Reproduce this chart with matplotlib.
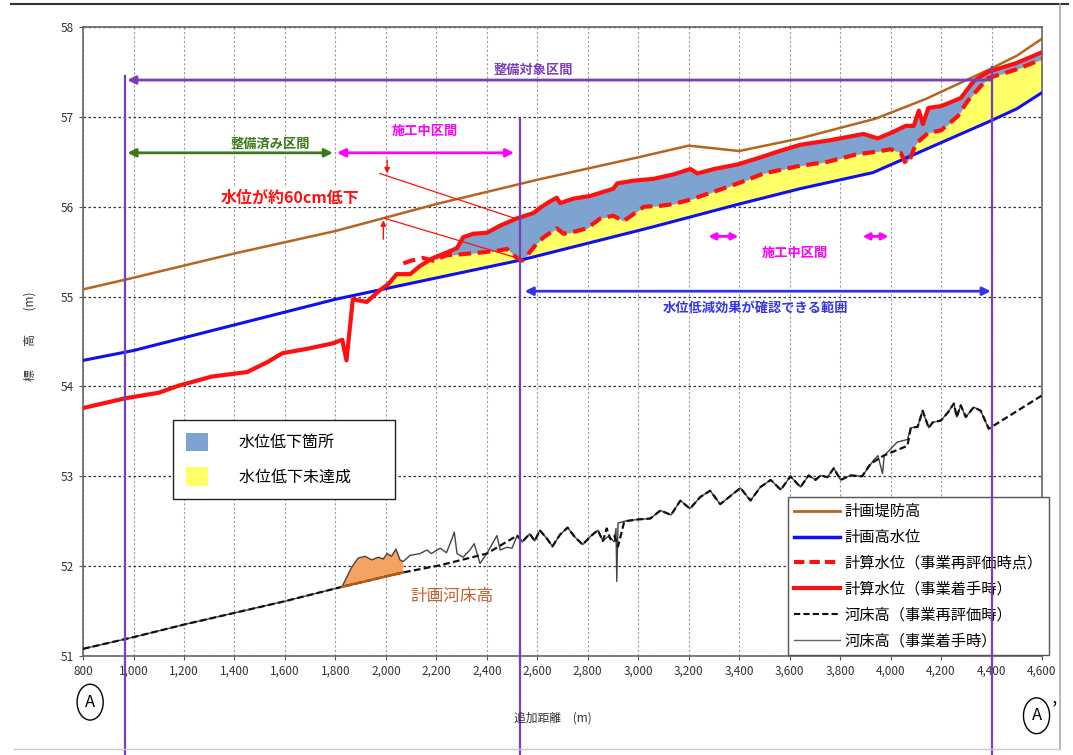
import numpy as np
import matplotlib.pyplot as plt
from matplotlib.patches import Patch
from matplotlib.lines import Line2D

plt.rcParams['font.family'] = ['Noto Sans CJK JP', 'DejaVu Sans']

# 計画堤防高
dike_x = [800, 1000, 1400, 1800, 2200, 2600, 3000, 3200, 3400, 3640, 3940, 4140, 4385, 4500, 4600]
dike_y = [55.08, 55.21, 55.48, 55.73, 56.03, 56.30, 56.55, 56.68, 56.62, 56.76, 56.98, 57.20, 57.52, 57.68, 57.87]

# 計画高水位
hwl_x = [800, 1000, 1800, 2540, 3050, 3400, 3640, 3930, 4400, 4500, 4600]
hwl_y = [54.29, 54.40, 54.97, 55.41, 55.77, 56.03, 56.20, 56.38, 56.96, 57.09, 57.27]

# 計算水位(事業着手時)
wl_old_x = [800, 970, 1100, 1180, 1310, 1450, 1530, 1590, 1690, 1790, 1827, 1844, 1869, 1924, 1976,
            2010, 2043, 2096, 2135, 2187, 2241, 2282, 2306, 2347, 2400, 2453, 2519, 2585, 2612, 2645,
            2677, 2691, 2743, 2810, 2901, 2917, 2981, 3060, 3140, 3207, 3234, 3300, 3393, 3485, 3560,
            3643, 3760, 3893, 3949, 4000, 4060, 4092, 4112, 4128, 4150, 4200, 4227, 4278, 4330, 4385,
            4500, 4600]
wl_old_y = [53.76, 53.87, 53.93, 54.01, 54.11, 54.16, 54.27, 54.37, 54.42, 54.48, 54.52, 54.29, 54.97, 54.94, 55.07,
            55.14, 55.25, 55.25, 55.34, 55.43, 55.49, 55.54, 55.66, 55.70, 55.71, 55.79, 55.87, 55.93, 55.99, 56.05,
            56.10, 56.04, 56.09, 56.12, 56.20, 56.26, 56.29, 56.31, 56.36, 56.42, 56.37, 56.42, 56.47, 56.55, 56.62,
            56.69, 56.74, 56.81, 56.76, 56.82, 56.90, 56.90, 57.07, 56.92, 57.10, 57.12, 57.15, 57.21, 57.40, 57.50,
            57.60, 57.72]

# 計算水位(事業再評価時点)
wl_new_x = [2069, 2100, 2147, 2187, 2241, 2294, 2373, 2440, 2480, 2519, 2540, 2560, 2598, 2625, 2677,
            2704, 2730, 2797, 2850, 2901, 2942, 2982, 3022, 3088, 3140, 3207, 3313, 3405, 3497, 3630,
            3750, 3861, 3960, 4000, 4040, 4060, 4080, 4100, 4148, 4200, 4267, 4306, 4385, 4500, 4600]
wl_new_y = [55.37, 55.40, 55.43, 55.40, 55.46, 55.47, 55.49, 55.51, 55.53, 55.43, 55.40, 55.46, 55.59, 55.66, 55.76,
            55.70, 55.71, 55.76, 55.87, 55.90, 55.84, 55.92, 56.00, 56.01, 56.03, 56.08, 56.18, 56.27, 56.37, 56.45,
            56.50, 56.58, 56.62, 56.64, 56.60, 56.48, 56.55, 56.70, 56.82, 56.85, 57.01, 57.18, 57.43, 57.53, 57.64]

# 河床高(事業再評価時)
bed_new_x = [800, 1000, 1200, 1400, 1600, 1826, 2068, 2215, 2400, 2520, 2540, 2570, 2590, 2610, 2640,
             2660, 2690, 2720, 2750, 2780, 2810, 2840, 2860, 2875, 2890, 2905, 2920, 2945, 3000, 3048,
             3088, 3130, 3167, 3205, 3246, 3285, 3325, 3365, 3405, 3445, 3484, 3525, 3565, 3603, 3643,
             3675, 3703, 3722, 3750, 3775, 3802, 3841, 3887, 3921, 3972, 4067, 4080, 4107, 4127, 4151,
             4167, 4199, 4227, 4251, 4262, 4278, 4298, 4330, 4357, 4389, 4600]
bed_new_y = [51.08, 51.21, 51.35, 51.48, 51.61, 51.77, 51.93, 52.01, 52.14, 52.34, 52.27, 52.36, 52.28, 52.40, 52.30,
             52.22, 52.35, 52.43, 52.32, 52.24, 52.33, 52.40, 52.28, 52.42, 52.30, 52.34, 52.22, 52.50, 52.52, 52.53,
             52.62, 52.57, 52.73, 52.64, 52.77, 52.84, 52.69, 52.78, 52.87, 52.73, 52.88, 52.96, 52.85, 53.00, 52.88,
             53.01, 52.96, 53.01, 52.99, 53.09, 52.96, 53.01, 53.00, 53.14, 53.23, 53.34, 53.54, 53.55, 53.73, 53.54,
             53.60, 53.62, 53.71, 53.81, 53.66, 53.79, 53.66, 53.77, 53.73, 53.53, 53.90]

# 河床高(事業着手時)
bed_old_x = [800, 1000, 1200, 1400, 1600, 1826, 1865, 1890, 1917, 1944, 1970, 1990, 2005, 2022, 2040,
             2056, 2068, 2096, 2135, 2163, 2180, 2215, 2240, 2260, 2271, 2282, 2306, 2333, 2350, 2373,
             2400, 2440, 2453, 2480, 2500, 2520, 2540, 2570, 2590, 2610, 2640, 2660, 2690, 2720, 2750,
             2780, 2810, 2840, 2860, 2880, 2895, 2905, 2912, 2915, 2920, 2945, 3000, 3048, 3088, 3130,
             3167, 3205, 3246, 3285, 3325, 3365, 3405, 3445, 3484, 3525, 3565, 3603, 3643, 3675, 3703,
             3722, 3750, 3775, 3802, 3841, 3887, 3933, 3950, 3968, 3975, 4026, 4067, 4080, 4107, 4127,
             4151, 4167, 4199, 4227, 4251, 4262, 4278, 4298, 4330, 4357, 4389]
bed_old_y = [51.08, 51.21, 51.35, 51.48, 51.61, 51.77, 51.99, 52.09, 52.11, 52.07, 52.10, 52.08, 52.14, 52.11, 52.19,
             52.07, 52.05, 52.12, 52.14, 52.18, 52.14, 52.20, 52.15, 52.29, 52.38, 52.14, 52.10, 52.18, 52.25, 52.03,
             52.14, 52.34, 52.18, 52.21, 52.20, 52.34, 52.27, 52.36, 52.28, 52.40, 52.30, 52.22, 52.35, 52.43, 52.32,
             52.24, 52.33, 52.40, 52.28, 52.33, 52.30, 52.27, 52.42, 51.83, 52.48, 52.50, 52.52, 52.53, 52.62, 52.57,
             52.73, 52.64, 52.77, 52.84, 52.69, 52.78, 52.87, 52.73, 52.88, 52.96, 52.85, 53.00, 52.88, 53.01, 52.96,
             53.01, 52.99, 53.09, 52.96, 53.01, 53.00, 53.18, 53.23, 53.03, 53.23, 53.38, 53.41, 53.54, 53.55, 53.73,
             53.54, 53.60, 53.62, 53.71, 53.81, 53.66, 53.79, 53.66, 53.77, 53.73, 53.53]

# 計画河床高 区間
plan_bed_x = [1826, 2068]
plan_bed_y = [51.77, 51.93]

x_ticks = list(range(800, 4601, 200))

c_dike = '#b5651d'
c_hwl = '#1010ee'
c_red = '#ff1010'
c_purple = '#7a3fb8'

fig = plt.figure(figsize=(10.73, 7.55), dpi=100)
ax = fig.add_axes([0.0774, 0.1311, 0.8937, 0.8331])
ax.set_xlim(800, 4600)
ax.set_ylim(51, 58)

# 格子
ax.set_xticks(x_ticks)
ax.set_xticklabels([f'{v:,}' for v in x_ticks], fontsize=8.5, color='#333')
ax.set_yticks(range(51, 59))
ax.set_yticklabels([str(v) for v in range(51, 59)], fontsize=8.5, color='#333')
ax.tick_params(length=3, width=0.8, color='#555')
ax.xaxis.grid(True, color='#999', linestyle=(0, (2, 2)), linewidth=0.8)
ax.yaxis.grid(True, color='#333', linestyle=(0, (2, 2)), linewidth=0.9)
ax.set_axisbelow(True)
for s in ax.spines.values():
    s.set_color('#666')
    s.set_linewidth(1.2)

# 塗りつぶし(補助グリッドで計算)
g = np.linspace(2000, 4600, 2601)
s_old = np.interp(g, wl_old_x, wl_old_y)
s_new = np.interp(g, wl_new_x, wl_new_y)
s_hwl = np.interp(g, hwl_x, hwl_y)
has_new = g >= wl_new_x[0]
upper = np.where(has_new, np.minimum(s_old, s_new), s_old)
ax.fill_between(g, s_hwl, upper, where=upper > s_hwl, color='#ffff66', lw=0, interpolate=True, zorder=2)
ax.fill_between(g, s_new, s_old, where=has_new & (s_old > s_new), color='#7fa3d0', lw=0,
                interpolate=True, zorder=2)

# 計画河床高 部分
sel = [i for i, x in enumerate(bed_old_x) if plan_bed_x[0] <= x <= plan_bed_x[1]]
poly_x = [bed_old_x[i] for i in sel] + plan_bed_x[::-1]
poly_y = [bed_old_y[i] for i in sel] + plan_bed_y[::-1]
ax.fill(poly_x, poly_y, color='#f4a460', lw=0, zorder=2)

# 線
ax.plot(bed_old_x, bed_old_y, color='#444', lw=1.0, zorder=3)
ax.plot(bed_new_x, bed_new_y, color='#111', lw=1.6, ls=(0, (3, 1.5)), zorder=3)
ax.plot(plan_bed_x, plan_bed_y, color='#b35a10', lw=1.8, zorder=4)
ax.plot(dike_x, dike_y, color=c_dike, lw=1.8, zorder=4)
ax.plot(hwl_x, hwl_y, color=c_hwl, lw=2.2, zorder=4)
ax.plot(wl_new_x, wl_new_y, color=c_red, lw=3.0, ls=(0, (3, 1.6)), zorder=5)
ax.plot(wl_old_x, wl_old_y, color=c_red, lw=3.0, zorder=5)

# 紫の縦線(図の下端まで、凡例の上に重ねる)
for xv, ytop in [(966, 57.45), (2532, 56.98), (4400, 57.55)]:
    ax.plot([xv, xv], [ytop, 49.85], color=c_purple, lw=1.6, clip_on=False, zorder=9)

# 区間の矢印
def arrow(x0, x1, y, color, style='<|-|>', lw=2.0, ms=12):
    ax.annotate('', xy=(x1, y), xytext=(x0, y),
                arrowprops=dict(arrowstyle=style, color=color, lw=lw, mutation_scale=ms,
                                shrinkA=0, shrinkB=0), zorder=7)

arrow(4400, 975, 57.41, c_purple, style='-|>')
ax.text(2585, 57.52, '整備対象区間', color=c_purple, fontsize=9.5, fontweight='bold', ha='center', va='center')
arrow(976, 1790, 56.6, '#3a7a1a')
ax.text(1541, 56.7, '整備済み区間', color='#3a7a1a', fontsize=9.5, fontweight='bold', ha='center', va='center')
arrow(1806, 2508, 56.6, '#ff00ff')
ax.text(2155, 56.84, '施工中区間', color='#ff00ff', fontsize=9.5, fontweight='bold', ha='center', va='center')
arrow(3278, 3397, 55.67, '#ff00ff', ms=10)
arrow(3889, 3992, 55.67, '#ff00ff', ms=10)
ax.text(3620, 55.48, '施工中区間', color='#ff00ff', fontsize=9.5, fontweight='bold', ha='center', va='center')
arrow(2550, 4397, 55.06, '#3333ee')
ax.text(3465, 54.86, '水位低減効果が確認できる範囲', color='#3333ee', fontsize=9.5, fontweight='bold',
        ha='center', va='center')

# 60cm 低下 注記
ax.text(1620, 56.1, '水位が約60cm低下', color=c_red, fontsize=11.5, fontweight='bold', ha='center',
        va='center', bbox=dict(facecolor='white', edgecolor='none', pad=1), zorder=6)
ax.plot([1976, 2512], [56.37, 55.87], color=c_red, lw=0.9, zorder=6)
ax.plot([1996, 2520], [55.87, 55.43], color=c_red, lw=0.9, zorder=6)
ax.annotate('', xy=(2005, 56.37), xytext=(2005, 56.52),
            arrowprops=dict(arrowstyle='-|>', color=c_red, lw=1.0, mutation_scale=8, shrinkA=0, shrinkB=0))
ax.annotate('', xy=(1990, 55.85), xytext=(1990, 55.64),
            arrowprops=dict(arrowstyle='-|>', color=c_red, lw=1.0, mutation_scale=8, shrinkA=0, shrinkB=0))

ax.text(2260, 51.66, '計画河床高', color='#c0622a', fontsize=12, ha='center', va='center')

# 凡例(塗り)
h1 = [Patch(facecolor='#7fa3d0', edgecolor='none'), Patch(facecolor='#ffff66', edgecolor='none')]
leg1 = ax.legend(h1, ['水位低下箇所', '水位低下未達成　　'], loc='upper left', bbox_to_anchor=(0.094, 0.375),
                 fontsize=11.5, handlelength=1.4, handleheight=1.4, handletextpad=1.9, labelspacing=1.0,
                 borderpad=0.8, borderaxespad=0, frameon=True, fancybox=False, framealpha=1)
leg1.get_frame().set_edgecolor('#222')
leg1.get_frame().set_linewidth(1.0)
leg1.set_zorder(8)
ax.add_artist(leg1)

# 凡例(線)
h2 = [Line2D([], [], color=c_dike, lw=2),
      Line2D([], [], color=c_hwl, lw=2.5),
      Line2D([], [], color=c_red, lw=3, ls=(0, (2.5, 1.2))),
      Line2D([], [], color=c_red, lw=3),
      Line2D([], [], color='#111', lw=1.5, ls=(0, (3, 1.5))),
      Line2D([], [], color='#666', lw=1.0)]
labels2 = ['計画堤防高', '計画高水位', '計算水位（事業再評価時点）', '計算水位（事業着手時）',
           '河床高（事業再評価時）', '河床高（事業着手時）']
leg2 = ax.legend(h2, labels2, loc='upper left', bbox_to_anchor=(0.735, 0.253), fontsize=11,
                 handlelength=3.0, handletextpad=0.3, labelspacing=0.58, borderpad=0.4,
                 borderaxespad=0, frameon=True, fancybox=False, framealpha=1)
leg2.get_frame().set_edgecolor('#555')
leg2.get_frame().set_linewidth(1.0)
leg2.set_zorder(8)

# 軸ラベル
fig.text(0.028, 0.555, '標　　高　　(m)', rotation=90, fontsize=8.5, ha='center', va='center', color='#333')
fig.text(0.515, 0.049, '追加距離　(m)', fontsize=8.5, ha='center', va='center', color='#333')

# A, A' 記号
fig.text(0.084, 0.070, 'A', fontsize=12, ha='center', va='center',
         bbox=dict(boxstyle='ellipse,pad=0.25', facecolor='none', edgecolor='black', lw=1.0))
fig.text(0.966, 0.052, 'A', fontsize=12, ha='center', va='center',
         bbox=dict(boxstyle='ellipse,pad=0.25', facecolor='none', edgecolor='black', lw=1.0))
fig.text(0.983, 0.058, '’', fontsize=14, ha='center', va='center')

# 外枠
fig.add_artist(Line2D([0.01, 0.995], [0.995, 0.995], color='#333', lw=1.5))
fig.add_artist(Line2D([0.988, 0.988], [0.995, 0.008], color='#aaa', lw=1.2))
fig.add_artist(Line2D([0.013, 0.988], [0.008, 0.008], color='#ccc', lw=1.0))

fig.savefig('out.png', dpi=100)
